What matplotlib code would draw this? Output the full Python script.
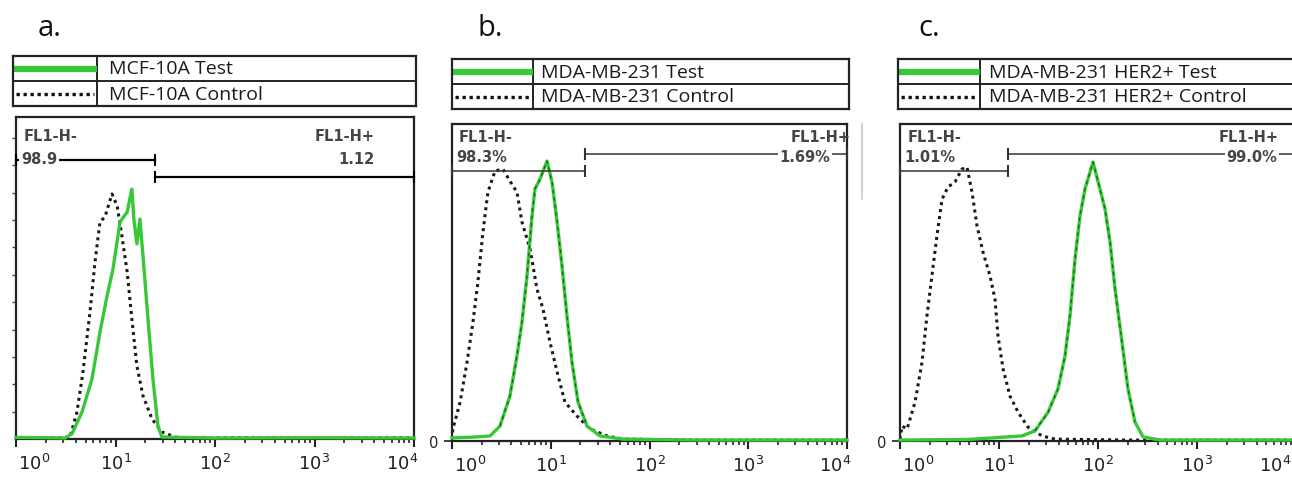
import numpy as np
import matplotlib.pyplot as plt
from matplotlib.lines import Line2D
from matplotlib.ticker import FixedLocator, NullFormatter
from matplotlib.transforms import offset_copy

W, H = 1292, 481
GREEN = '#36c836'
DOT = (0, (1, 1.3))

# FL1-H intensity vs. counts (% of y range)
a_ctrl_x = [1.0, 2.5, 3.49, 4.10, 4.71, 5.54, 6.22, 6.98, 7.84, 9.22, 10.4, 11.6,
            13.1, 14.6, 16.4, 18.9, 23.3, 29.3, 39.6, 53.5, 200, 1000, 10000]
a_ctrl_y = [0.4, 0.3, 0.6, 8.4, 20.8, 39.4, 54.9, 67.4, 69.0, 76.1, 72.4, 63.0,
            51.9, 37.3, 22.7, 13.4, 6.2, 2.2, 0.6, 0.3, 0.4, 0.3, 0.4]
a_test_x = [1.0, 2.0, 3.11, 3.65, 4.61, 5.80, 6.98, 8.22, 9.44, 11.1, 13.1, 14.6,
            15.3, 16.4, 17.6, 18.9, 21.2, 23.8, 26.7, 29.3, 100, 1000, 10000]
a_test_y = [0.5, 0.4, 0.3, 1.6, 8.4, 18.6, 33.2, 44.4, 52.8, 67.4, 70.5, 77.6,
            68.3, 60.6, 68.3, 56.8, 37.3, 18.6, 4.0, 0.6, 0.3, 0.4, 0.3]

b_ctrl_x = [1.0, 1.02, 1.21, 1.42, 1.63, 1.83, 2.06, 2.31, 2.73, 3.28, 3.86, 4.55,
            5.11, 6.17, 7.26, 8.35, 9.82, 11.6, 13.9, 18.4, 25.0, 37.1, 53.9,
            300, 10000]
b_ctrl_y = [0.5, 3.8, 12.3, 24.9, 37.5, 50.2, 66.0, 78.5, 85.2, 85.8, 82.0, 78.5,
            69.1, 60.6, 47.9, 41.6, 31.2, 21.8, 12.3, 7.9, 3.8, 1.6, 0.6,
            0.3, 0.3]
b_test_x = [1.0, 1.6, 2.43, 3.06, 3.86, 4.55, 5.11, 5.75, 6.46, 6.92, 7.78, 9.16,
            10.3, 11.6, 13.0, 14.6, 16.4, 18.9, 23.3, 31.5, 53.9, 300, 10000]
b_test_y = [1.0, 1.2, 1.6, 4.7, 14.2, 26.8, 37.5, 52.1, 71.0, 79.5, 82.6, 88.3,
            81.7, 69.1, 55.2, 39.4, 24.9, 12.3, 4.7, 1.6, 0.6, 0.3, 0.3]

c_ctrl_x = [1.0, 1.05, 1.18, 1.42, 1.67, 1.87, 2.10, 2.36, 2.66, 3.05, 3.59, 4.23,
            4.75, 5.34, 6.00, 6.89, 8.11, 9.11, 9.77, 11.0, 12.9, 15.6, 19.6,
            27.2, 36.8, 200, 10000]
c_ctrl_y = [0.5, 4.7, 3.8, 12.3, 24.9, 39.4, 52.1, 64.7, 76.3, 80.1, 81.7, 85.8,
            86.4, 78.5, 67.8, 59.6, 52.1, 44.8, 33.1, 22.7, 14.2, 9.1, 4.4,
            1.6, 0.6, 0.3, 0.3]
c_test_x = [1.0, 5.0, 17.1, 23.1, 31.3, 39.4, 46.4, 52.1, 58.6, 65.8, 73.9, 89.0,
            104.7, 117.7, 132.3, 148.6, 174.7, 200.9, 236.4, 284.9, 425, 10000]
c_test_y = [0.3, 0.5, 1.6, 3.2, 9.1, 16.4, 26.8, 39.4, 57.4, 71.0, 79.5, 88.0,
            79.5, 73.2, 62.8, 48.0, 31.2, 16.4, 6.0, 1.3, 0.3, 0.3]

decades = [1, 10, 100, 1000, 10000]
decade_labels = [r'$10^{0}$', r'$10^{1}$', r'$10^{2}$', r'$10^{3}$', r'$10^{4}$']

panels = [
    dict(letter='a.', letter_x=38,
         names=['MCF-10A Test', 'MCF-10A Control'],
         leg=(13, 57, 416, 107), leg_div=97, leg_pad=12,
         hist=(16, 118, 414, 440),
         test=(a_test_x, a_test_y), ctrl=(a_ctrl_x, a_ctrl_y),
         gate=25.0, neg_y=86.6, pos_y=81.4,
         neg_txt='98.9', pos_txt='1.12', pos_right=0.902,
         txt_y=(0.944, 0.87), gate_color='black', gate_lw=1.6,
         zero=False, last_dx=-12, dashes=False),
    dict(letter='b.', letter_x=477,
         names=['MDA-MB-231 Test', 'MDA-MB-231 Control'],
         leg=(452, 60, 849, 110), leg_div=533, leg_pad=8,
         hist=(452, 125, 847, 442),
         test=(b_test_x, b_test_y), ctrl=(b_ctrl_x, b_ctrl_y),
         gate=22.2, neg_y=85.2, pos_y=90.5,
         neg_txt='98.3%', pos_txt='1.69%', pos_right=0.957,
         txt_y=(0.962, 0.899), gate_color='#333333', gate_lw=1.1,
         zero=True, last_dx=-12, dashes=True, plus_right=1.008),
    dict(letter='c.', letter_x=918,
         names=['MDA-MB-231 HER2+ Test', 'MDA-MB-231 HER2+ Control'],
         leg=(898, 60, 1320, 110), leg_div=980, leg_pad=9,
         hist=(900, 125, 1296, 442),
         test=(c_test_x, c_test_y), ctrl=(c_ctrl_x, c_ctrl_y),
         gate=12.3, neg_y=85.2, pos_y=90.5,
         neg_txt='1.01%', pos_txt='99.0%', pos_right=0.952,
         txt_y=(0.962, 0.899), gate_color='#333333', gate_lw=1.1,
         zero=True, last_dx=-21, dashes=True, plus_right=0.955),
]


def rect(x0, y0, x1, y1):
    return [x0 / W, 1 - y1 / H, (x1 - x0) / W, (y1 - y0) / H]


fig = plt.figure(figsize=(W / 100, H / 100), dpi=100)

for p in panels:
    # panel letter
    fig.text(p['letter_x'] / W, 1 - 28 / H, p['letter'], fontsize=21,
             family='Open Sans', va='center', ha='left', color='#111111')

    # legend table
    x0, y0, x1, y1 = p['leg']
    lg = fig.add_axes(rect(x0, y0, x1, y1))
    lg.set_xlim(x0, x1)
    lg.set_ylim(0, 2)
    lg.set_xticks([])
    lg.set_yticks([])
    for s in lg.spines.values():
        s.set_linewidth(1.6)
        s.set_color('#222222')
    lg.axhline(1, color='#222222', lw=1.4)
    lg.axvline(p['leg_div'], color='#222222', lw=1.4)
    lg.plot([x0, p['leg_div']], [1.5, 1.5], color=GREEN, lw=4.5,
            solid_capstyle='butt')
    lg.plot([x0 + 3, p['leg_div'] - 3], [0.5, 0.5], color='#111111', lw=2.4,
            linestyle=(0, (1, 1.1)))
    for row, name in zip([1.5, 0.5], p['names']):
        lg.text(p['leg_div'] + p['leg_pad'], row, name, fontsize=14,
                family='Open Sans', va='center', ha='left', color='#1a1a1a')

    # histogram
    ax = fig.add_axes(rect(*p['hist']))
    ax.set_xscale('log')
    ax.set_xlim(1, 10000)
    ax.set_ylim(0, 100)
    for s in ax.spines.values():
        s.set_linewidth(1.6)
        s.set_color('#222222')

    tx, ty = p['test']
    cx, cy = p['ctrl']
    ax.plot(tx, ty, color=GREEN, lw=2.4, zorder=3, clip_on=False)
    if p['dashes']:
        ty_arr = np.array(ty, dtype=float)
        ax.plot(tx, np.where(ty_arr > 3, ty_arr, np.nan), color='#1d5e1d',
                lw=0.9, linestyle=(0, (3, 3)), zorder=4)
    ax.plot(cx, cy, color='#1a1a1a', lw=2.2, linestyle=DOT, zorder=2)

    # gates
    g = p['gate']
    ax.plot([1, g], [p['neg_y'], p['neg_y']], color=p['gate_color'],
            lw=p['gate_lw'], marker='|', ms=9, mew=1.5, zorder=5, clip_on=False)
    ax.plot([g, 10000], [p['pos_y'], p['pos_y']], color=p['gate_color'],
            lw=p['gate_lw'], marker='|', ms=9, mew=1.5, zorder=5, clip_on=False)

    lab = dict(fontsize=10.5, fontweight='bold', color='#444444',
               transform=ax.transAxes, va='center', zorder=6)
    box = dict(fc='white', ec='none', pad=1.2)
    ax.text(0.018, p['txt_y'][0], 'FL1-H-', ha='left', **lab)
    ax.text(0.012, p['txt_y'][1], p['neg_txt'], ha='left', bbox=box, **lab)
    ax.text(p.get('plus_right', p['pos_right']), p['txt_y'][0], 'FL1-H+',
            ha='right', **lab)
    ax.text(p['pos_right'], p['txt_y'][1], p['pos_txt'], ha='right', bbox=box,
            **lab)

    # axis ticks
    ax.xaxis.set_major_locator(FixedLocator(decades))
    ax.set_xticklabels(decade_labels)
    minors = [m * d for d in decades[:-1] for m in range(2, 10)]
    ax.xaxis.set_minor_locator(FixedLocator(minors))
    ax.xaxis.set_minor_formatter(NullFormatter())
    ax.tick_params(axis='x', which='major', direction='out', length=6,
                   width=1.5, labelsize=13, pad=4, colors='#222222')
    ax.tick_params(axis='x', which='minor', direction='out', length=3,
                   width=1.2, colors='#222222')
    labels = ax.get_xticklabels()
    labels[0].set_transform(offset_copy(labels[0].get_transform(), fig=fig,
                                        x=18, units='dots'))
    labels[-1].set_transform(offset_copy(labels[-1].get_transform(), fig=fig,
                                         x=p['last_dx'], units='dots'))
    if p['zero']:
        ax.set_yticks([0])
        ax.set_yticklabels(['0'])
        ax.tick_params(axis='y', direction='out', length=6, width=1.2,
                       labelsize=10.5, pad=4, colors='#222222')
    else:
        ax.set_yticks(np.arange(8.5, 100, 8.5))
        ax.set_yticklabels([])
        ax.tick_params(axis='y', direction='out', length=3, width=1.0,
                       colors='#444444')

# faint frame edge between panels b and c
fig.add_artist(Line2D([862 / W, 862 / W], [1 - 125 / H, 1 - 200 / H],
                      color='#c8c8c8', lw=1.2))

fig.savefig('out.png', dpi=100)
